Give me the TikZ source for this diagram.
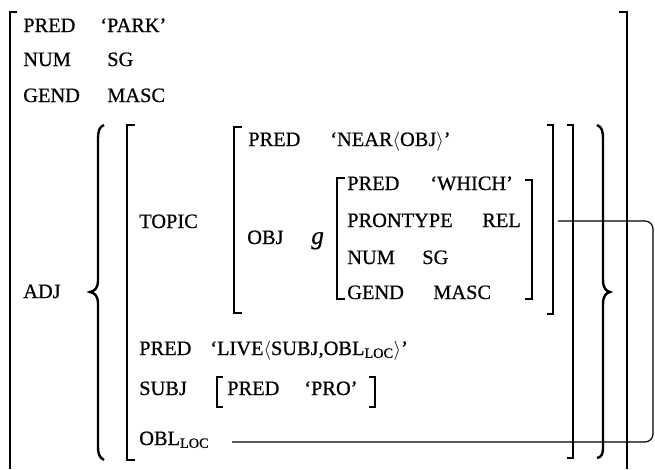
\documentclass[tikz,border=0pt]{standalone}
\usepackage{fontspec}
\setmainfont{Liberation Serif}
\newfontfamily\fstr{Liberation Serif}[Ligatures=TeX, FakeBold=0.6]
\usepackage{tikz}
\usetikzlibrary{positioning}
\tikzset{
  attr/.style={anchor=base west, inner sep=0pt, font=\fontsize{15.3}{18}\fstr},
  brk/.style={line width=1.5pt},
  brace/.style={line width=1.8pt},
  link/.style={line width=0.9pt, rounded corners=6pt}
}
\newcommand{\lang}{$\bigl\langle$}
\newcommand{\rang}{$\bigr\rangle$}

\begin{document}
\begin{tikzpicture}[x=0.75pt, y=-0.75pt]
  \useasboundingbox (0,0) rectangle (655,469);
  \node[attr] (pred) at (23,32) {PRED};
  \node[attr] (park) at (100,32) {‘PARK’};
  \node[attr] (num) at (23,66) {NUM};
  \node[attr] (sg) at (107,66) {SG};
  \node[attr] (gend) at (23,102) {GEND};
  \node[attr] (masc) at (107,102) {MASC};
  \node[attr] (adj) at (23,298) {ADJ};
  \node[attr] (topic) at (139,228) {TOPIC};
  \node[attr] (tpred) at (248,146) {PRED};
  \node[attr] (near) at (330,146) {‘NEAR\lang OBJ\rang’};
  \node[attr] (obj) at (247,244) {OBJ};
  \node[attr, font=\fontsize{19}{19}\fstr\itshape] (g) at (311,244) {g};
  \node[attr] (gpred) at (347,190) {PRED};
  \node[attr] (which) at (430,190) {‘WHICH’};
  \node[attr] (prontype) at (347,227) {PRONTYPE};
  \node[attr] (rel) at (482,227) {REL};
  \node[attr] (gnum) at (347,264) {NUM};
  \node[attr] (gsg) at (422,264) {SG};
  \node[attr] (ggend) at (347,299) {GEND};
  \node[attr] (gmasc) at (433,299) {MASC};
  \node[attr] (lpred) at (139,355) {PRED};
  \node[attr] (live) at (210,355) {‘LIVE\lang SUBJ,OBL\textsubscript{LOC}\rang’};
  \node[attr] (subj) at (139,395) {SUBJ};
  \node[attr] (spred) at (227,395) {PRED};
  \node[attr] (pro) at (304,395) {‘PRO’};
  \node[attr] (obl) at (139,445) {OBL\textsubscript{LOC}};
  \draw[brk] (17,12) -- (10,12) -- (10,469);
  \draw[brk] (619,12) -- (627,12) -- (627,469);
  \draw[brk] (135,125) -- (127,125) -- (127,460) -- (135,460);
  \draw[brk] (567,125) -- (573,125) -- (573,458) -- (567,458);
  \draw[brk] (242,127) -- (234,127) -- (234,313) -- (242,313);
  \draw[brk] (547,125) -- (553,125) -- (553,314) -- (547,314);
  \draw[brk] (345,178) -- (337,178) -- (337,299) -- (345,299);
  \draw[brk] (525,180) -- (532,180) -- (532,299) -- (525,299);
  \draw[brk] (223,377) -- (217,377) -- (217,407) -- (223,407);
  \draw[brk] (369,377) -- (375,377) -- (375,407) -- (369,407);
  \draw[brace] (104,125) .. controls (99,127) and (98,131) .. (98,140) -- (98,280)
    .. controls (98,288) and (95,291) .. (90,292) .. controls (95,293) and (98,296) .. (98,304)
    -- (98,446) .. controls (98,454) and (99,457) .. (104,460);
  \draw[brace] (597,125) .. controls (602,127) and (603,131) .. (603,140) -- (603,280)
    .. controls (603,288) and (606,291) .. (610,292) .. controls (606,293) and (603,296) .. (603,304)
    -- (603,446) .. controls (603,454) and (602,457) .. (597,458);
  \coordinate (gtie) at (558,221);
  \coordinate (turn) at (653,221);
  \draw[link] ([xshift=17pt]obl.mid east) -| (turn) -- (gtie);
\end{tikzpicture}
\end{document}
